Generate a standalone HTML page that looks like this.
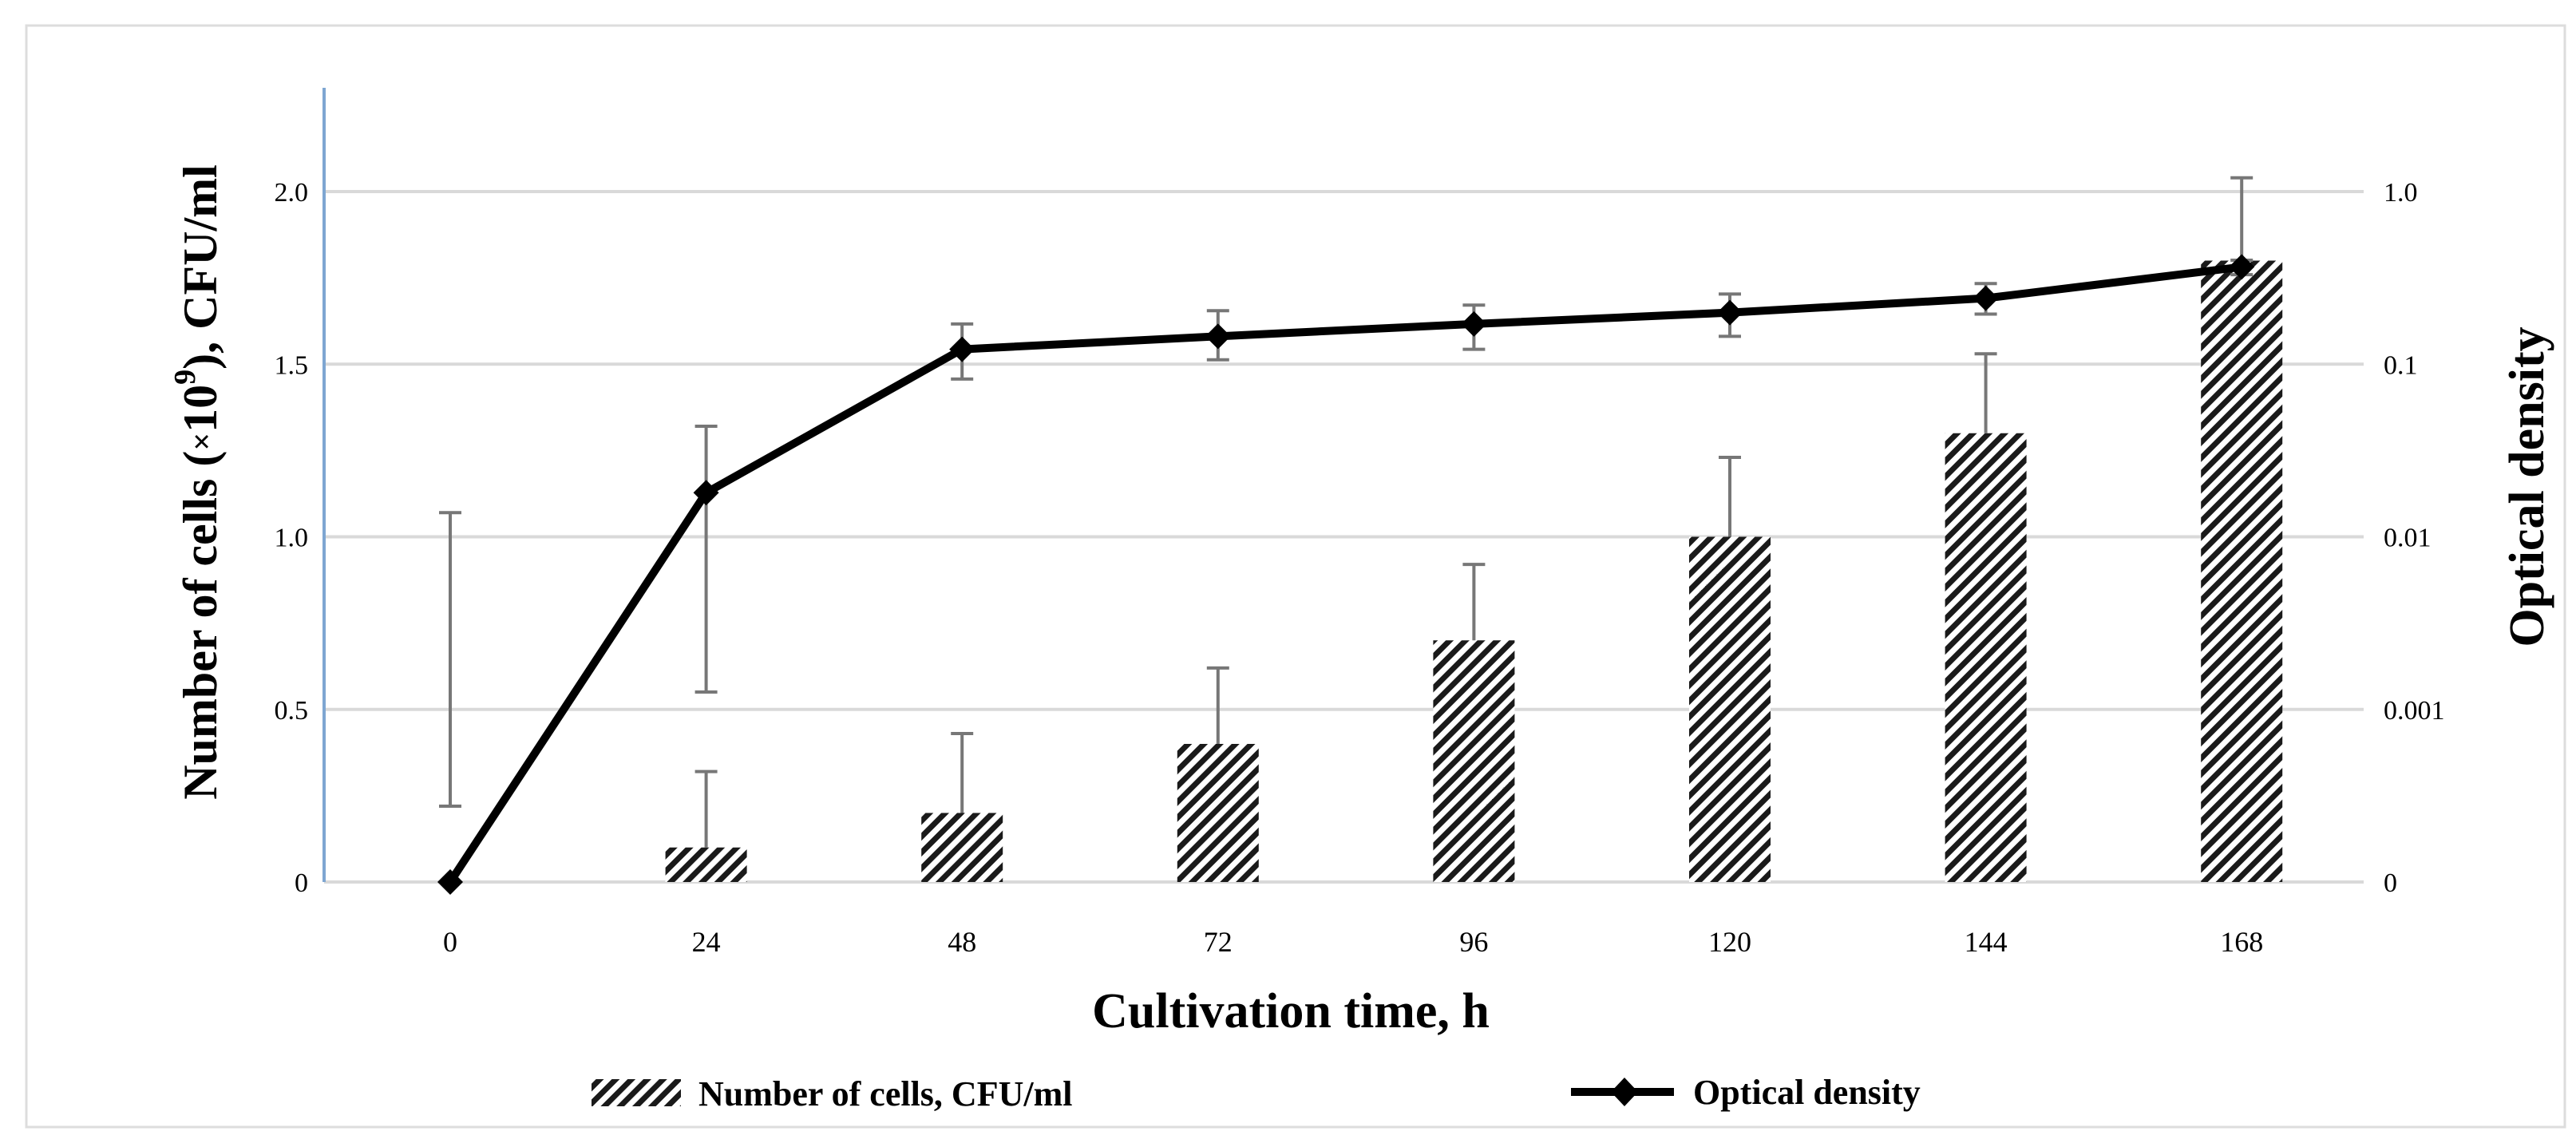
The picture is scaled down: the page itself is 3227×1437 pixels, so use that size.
<!DOCTYPE html>
<html><head><meta charset="utf-8"><style>
html,body{margin:0;padding:0;background:#fff;}
svg{display:block;font-family:"Liberation Serif",serif;}
</style></head><body>
<svg id="chart" width="3227" height="1437" viewBox="0 0 3227 1437">
<defs>
<pattern id="hatch" patternUnits="userSpaceOnUse" width="14" height="14" patternTransform="rotate(45)">
<rect width="14" height="14" fill="#fff"/>
<rect width="7" height="14" fill="#1a1a1a"/>
</pattern>
</defs>
<rect x="33" y="32" width="3180" height="1380" fill="none" stroke="#ddd" stroke-width="3"/>
<g id="grid"></g>
<line x1="406" y1="110" x2="406" y2="1105" stroke="#7ea6d2" stroke-width="4"/>
<g id="bars"></g>
<g id="line"></g>
<g id="labels"></g>
<text x="257" y="604" transform="rotate(-90 257 604)" text-anchor="middle" font-size="60" font-weight="bold" dominant-baseline="middle">Number of cells (<tspan font-size="40">×</tspan>10<tspan font-size="38" dy="-22">9</tspan><tspan dy="22">), CFU/ml</tspan></text>
<text x="3172" y="610" transform="rotate(-90 3172 610)" text-anchor="middle" font-size="62" font-weight="bold" dominant-baseline="middle">Optical density</text>
<text x="1617" y="1287" text-anchor="middle" font-size="62" font-weight="bold">Cultivation time, h</text>
<g>
<rect x="741" y="1352" width="112" height="34" fill="url(#hatch)"/>
<text x="875" y="1385" font-size="44" font-weight="bold">Number of cells, CFU/ml</text>
<line x1="1968" y1="1368" x2="2097" y2="1368" stroke="#000" stroke-width="10"/>
<path d="M2035 1350 L2052 1368 L2035 1386 L2018 1368 Z" fill="#000"/>
<text x="2121" y="1383" font-size="44" font-weight="bold">Optical density</text>
</g>
</svg>
<script>
const categories=["0","24","48","72","96","120","144","168"];
const cellCounts=[0,0.1,0.2,0.4,0.7,1.0,1.3,1.8];
const cellErrUpper=[0,0.32,0.43,0.62,0.92,1.23,1.53,2.04];
const opticalDensity=[0.0001,0.018,0.122,0.145,0.171,0.199,0.241,0.366];
const odErrLow=[0.000275,0.00126,0.082,0.106,0.122,0.145,0.195,0.33];
const odErrHigh=[0.0138,0.0437,0.171,0.204,0.22,0.255,0.293,0.40];
const leftTicks=[0,0.5,1.0,1.5,2.0];
const leftTickLabels=["0","0.5","1.0","1.5","2.0"];
const rightTickLabels=["0","0.001","0.01","0.1","1.0"];

const NS="http://www.w3.org/2000/svg";
const X0=564,DX=320.6,Y0=1105,PX=432.5;
function xs(i){return X0+i*DX;}
function yL(u){return Y0-u*PX;}
function yR(od){return yL((Math.log10(od)+4)/2);}
function mk(tag,attrs,parent){const e=document.createElementNS(NS,tag);for(const k in attrs)e.setAttribute(k,attrs[k]);document.getElementById(parent).appendChild(e);return e;}

leftTicks.forEach((t,i)=>{
 const g=mk('line',{x1:406,x2:2961,y1:yL(t),y2:yL(t),stroke:'#d9d9d9','stroke-width':4},'grid');
 
 
 const a=mk('text',{x:386,y:yL(t)+12,'text-anchor':'end','font-size':34},'labels');a.textContent=leftTickLabels[i];
 
 
 const b=mk('text',{x:2986,y:yL(t)+12,'text-anchor':'start','font-size':34},'labels');b.textContent=rightTickLabels[i];
 
 
});
categories.forEach((c,i)=>{
 const t=mk('text',{x:xs(i),y:1192,'text-anchor':'middle','font-size':36},'labels');t.textContent=c;
 
 
 if(cellCounts[i]>0){
  const r=mk('rect',{x:xs(i)-51,y:yL(cellCounts[i]),width:102,height:yL(0)-yL(cellCounts[i]),fill:'url(#hatch)'},'bars');
  
  
  const e=mk('path',{d:`M${xs(i)} ${yL(cellCounts[i])} V${yL(cellErrUpper[i])} M${xs(i)-14} ${yL(cellErrUpper[i])} H${xs(i)+14}`,stroke:'#777','stroke-width':4,fill:'none'},'bars');
  
  
 }
});
categories.forEach((c,i)=>{
 const lo=yR(odErrLow[i]),hi=yR(odErrHigh[i]),x=xs(i);
 const e=mk('path',{d:`M${x} ${lo} V${hi} M${x-14} ${lo} H${x+14} M${x-14} ${hi} H${x+14}`,stroke:'#777','stroke-width':4,fill:'none'},'line');
 
 
});
const pts=opticalDensity.map((v,i)=>xs(i)+','+yR(v)).join(' ');
const pl=mk('polyline',{points:pts,fill:'none',stroke:'#000','stroke-width':10,'stroke-linejoin':'round'},'line');


opticalDensity.forEach((v,i)=>{
 const x=xs(i),y=yR(v);
 const m=mk('path',{d:`M${x} ${y-16} L${x+16} ${y} L${x} ${y+16} L${x-16} ${y} Z`,fill:'#000'},'line');
 
 
});
</script>
</body></html>
